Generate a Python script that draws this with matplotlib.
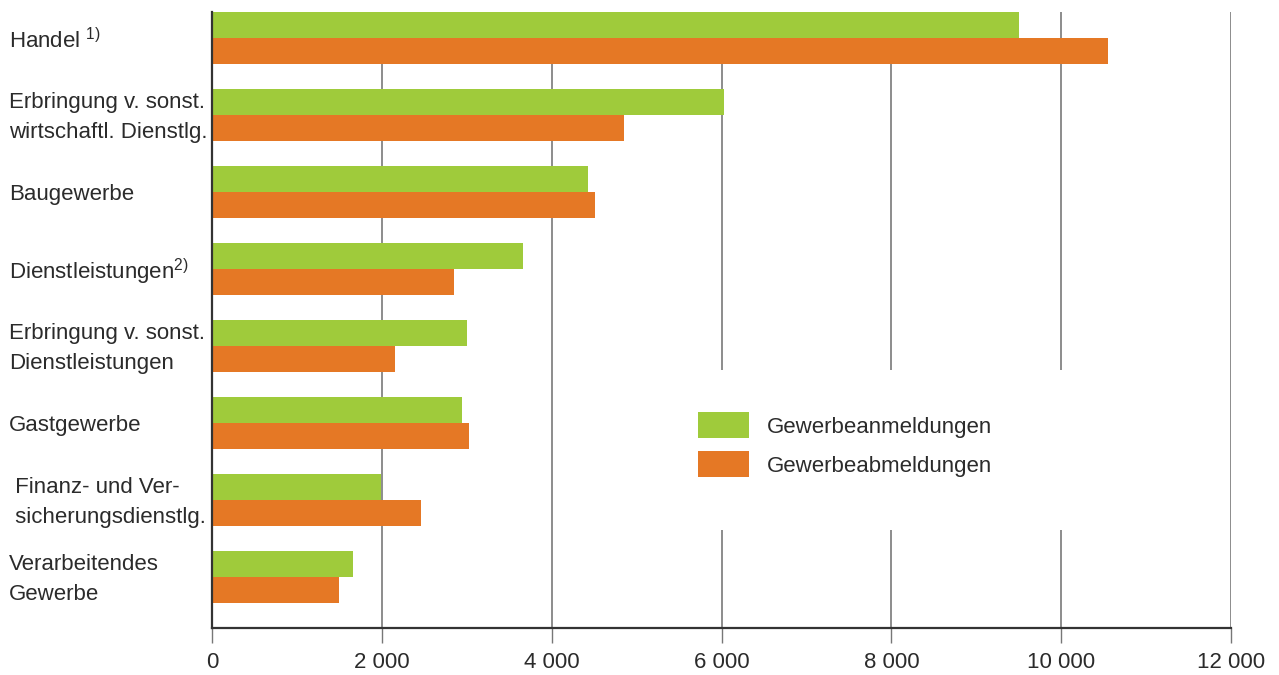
import matplotlib
matplotlib.use('Agg')
import matplotlib.pyplot as plt
import numpy as np
from matplotlib.patches import Rectangle

plt.rcParams['font.family'] = ['Liberation Sans', 'DejaVu Sans']
plt.rcParams['mathtext.fontset'] = 'custom'
plt.rcParams['mathtext.rm'] = 'Liberation Sans'
plt.rcParams['mathtext.default'] = 'regular'

# Data
categories = ['Handel $^{1)}$',
              'Erbringung v. sonst.\nwirtschaftl. Dienstlg.',
              'Baugewerbe',
              'Dienstleistungen$^{2)}$',
              'Erbringung v. sonst.\nDienstleistungen',
              'Gastgewerbe',
              ' Finanz- und Ver-\n sicherungsdienstlg.',
              'Verarbeitendes\nGewerbe']
anmeldungen = [9500, 6030, 4430, 3660, 3000, 2940, 1990, 1660]
abmeldungen = [10550, 4850, 4510, 2850, 2150, 3030, 2460, 1500]
series_names = ['Gewerbeanmeldungen', 'Gewerbeabmeldungen']
x_ticks = [0, 2000, 4000, 6000, 8000, 10000, 12000]

green = '#9fcb3b'
orange = '#e57825'
text_color = '#2b2b2b'
font_size = 16

fig = plt.figure(figsize=(12.79, 6.75), dpi=100)
ax = fig.add_axes([212 / 1279, 1 - 628 / 675, 1019 / 1279, 616 / 675])

# Bars, green above orange within each group
y_pos = np.arange(len(categories))
bar_h = 0.338
ax.barh(y_pos - bar_h / 2, anmeldungen, height=bar_h, color=green,
        label=series_names[0], zorder=3)
ax.barh(y_pos + bar_h / 2, abmeldungen, height=bar_h, color=orange,
        label=series_names[1], zorder=3)

ax.set_xlim(0, 12000)
ax.set_ylim(len(categories) - 0.34, -0.34)

# Vertical grid lines
ax.set_xticks(x_ticks)
ax.set_xticklabels([f'{t:,}'.replace(',', ' ') for t in x_ticks],
                   fontsize=font_size, color=text_color)
ax.xaxis.grid(True, color='#6e6e6e', linewidth=1.1, zorder=0)
ax.set_axisbelow(True)
ax.tick_params(axis='x', length=11, width=1.0, color='#777777', pad=6)
ax.set_yticks([])

for side in ['top', 'right']:
    ax.spines[side].set_visible(False)
for side in ['left', 'bottom']:
    ax.spines[side].set_color('#333333')
    ax.spines[side].set_linewidth(1.6)
    ax.spines[side].set_zorder(4)

# Category labels, left aligned at the figure edge
for i, label in enumerate(categories):
    ax.annotate(label, xy=(9 / 1279, i + 0.03),
                xycoords=('figure fraction', 'data'),
                ha='left', va='center', fontsize=font_size,
                color=text_color, linespacing=1.62)

# White backdrop behind the legend that breaks the grid lines
ax.add_patch(Rectangle((5600, 4.31), 5300, 2.08, facecolor='white',
                       edgecolor='none', zorder=1))

leg = ax.legend(loc='upper left', bbox_to_anchor=(0.466, 0.368),
                frameon=False, fontsize=font_size, borderpad=0,
                handlelength=2.3, handleheight=1.4, handletextpad=0.8,
                labelspacing=0.6)
for t in leg.get_texts():
    t.set_color(text_color)

fig.savefig('out.png', dpi=100)
